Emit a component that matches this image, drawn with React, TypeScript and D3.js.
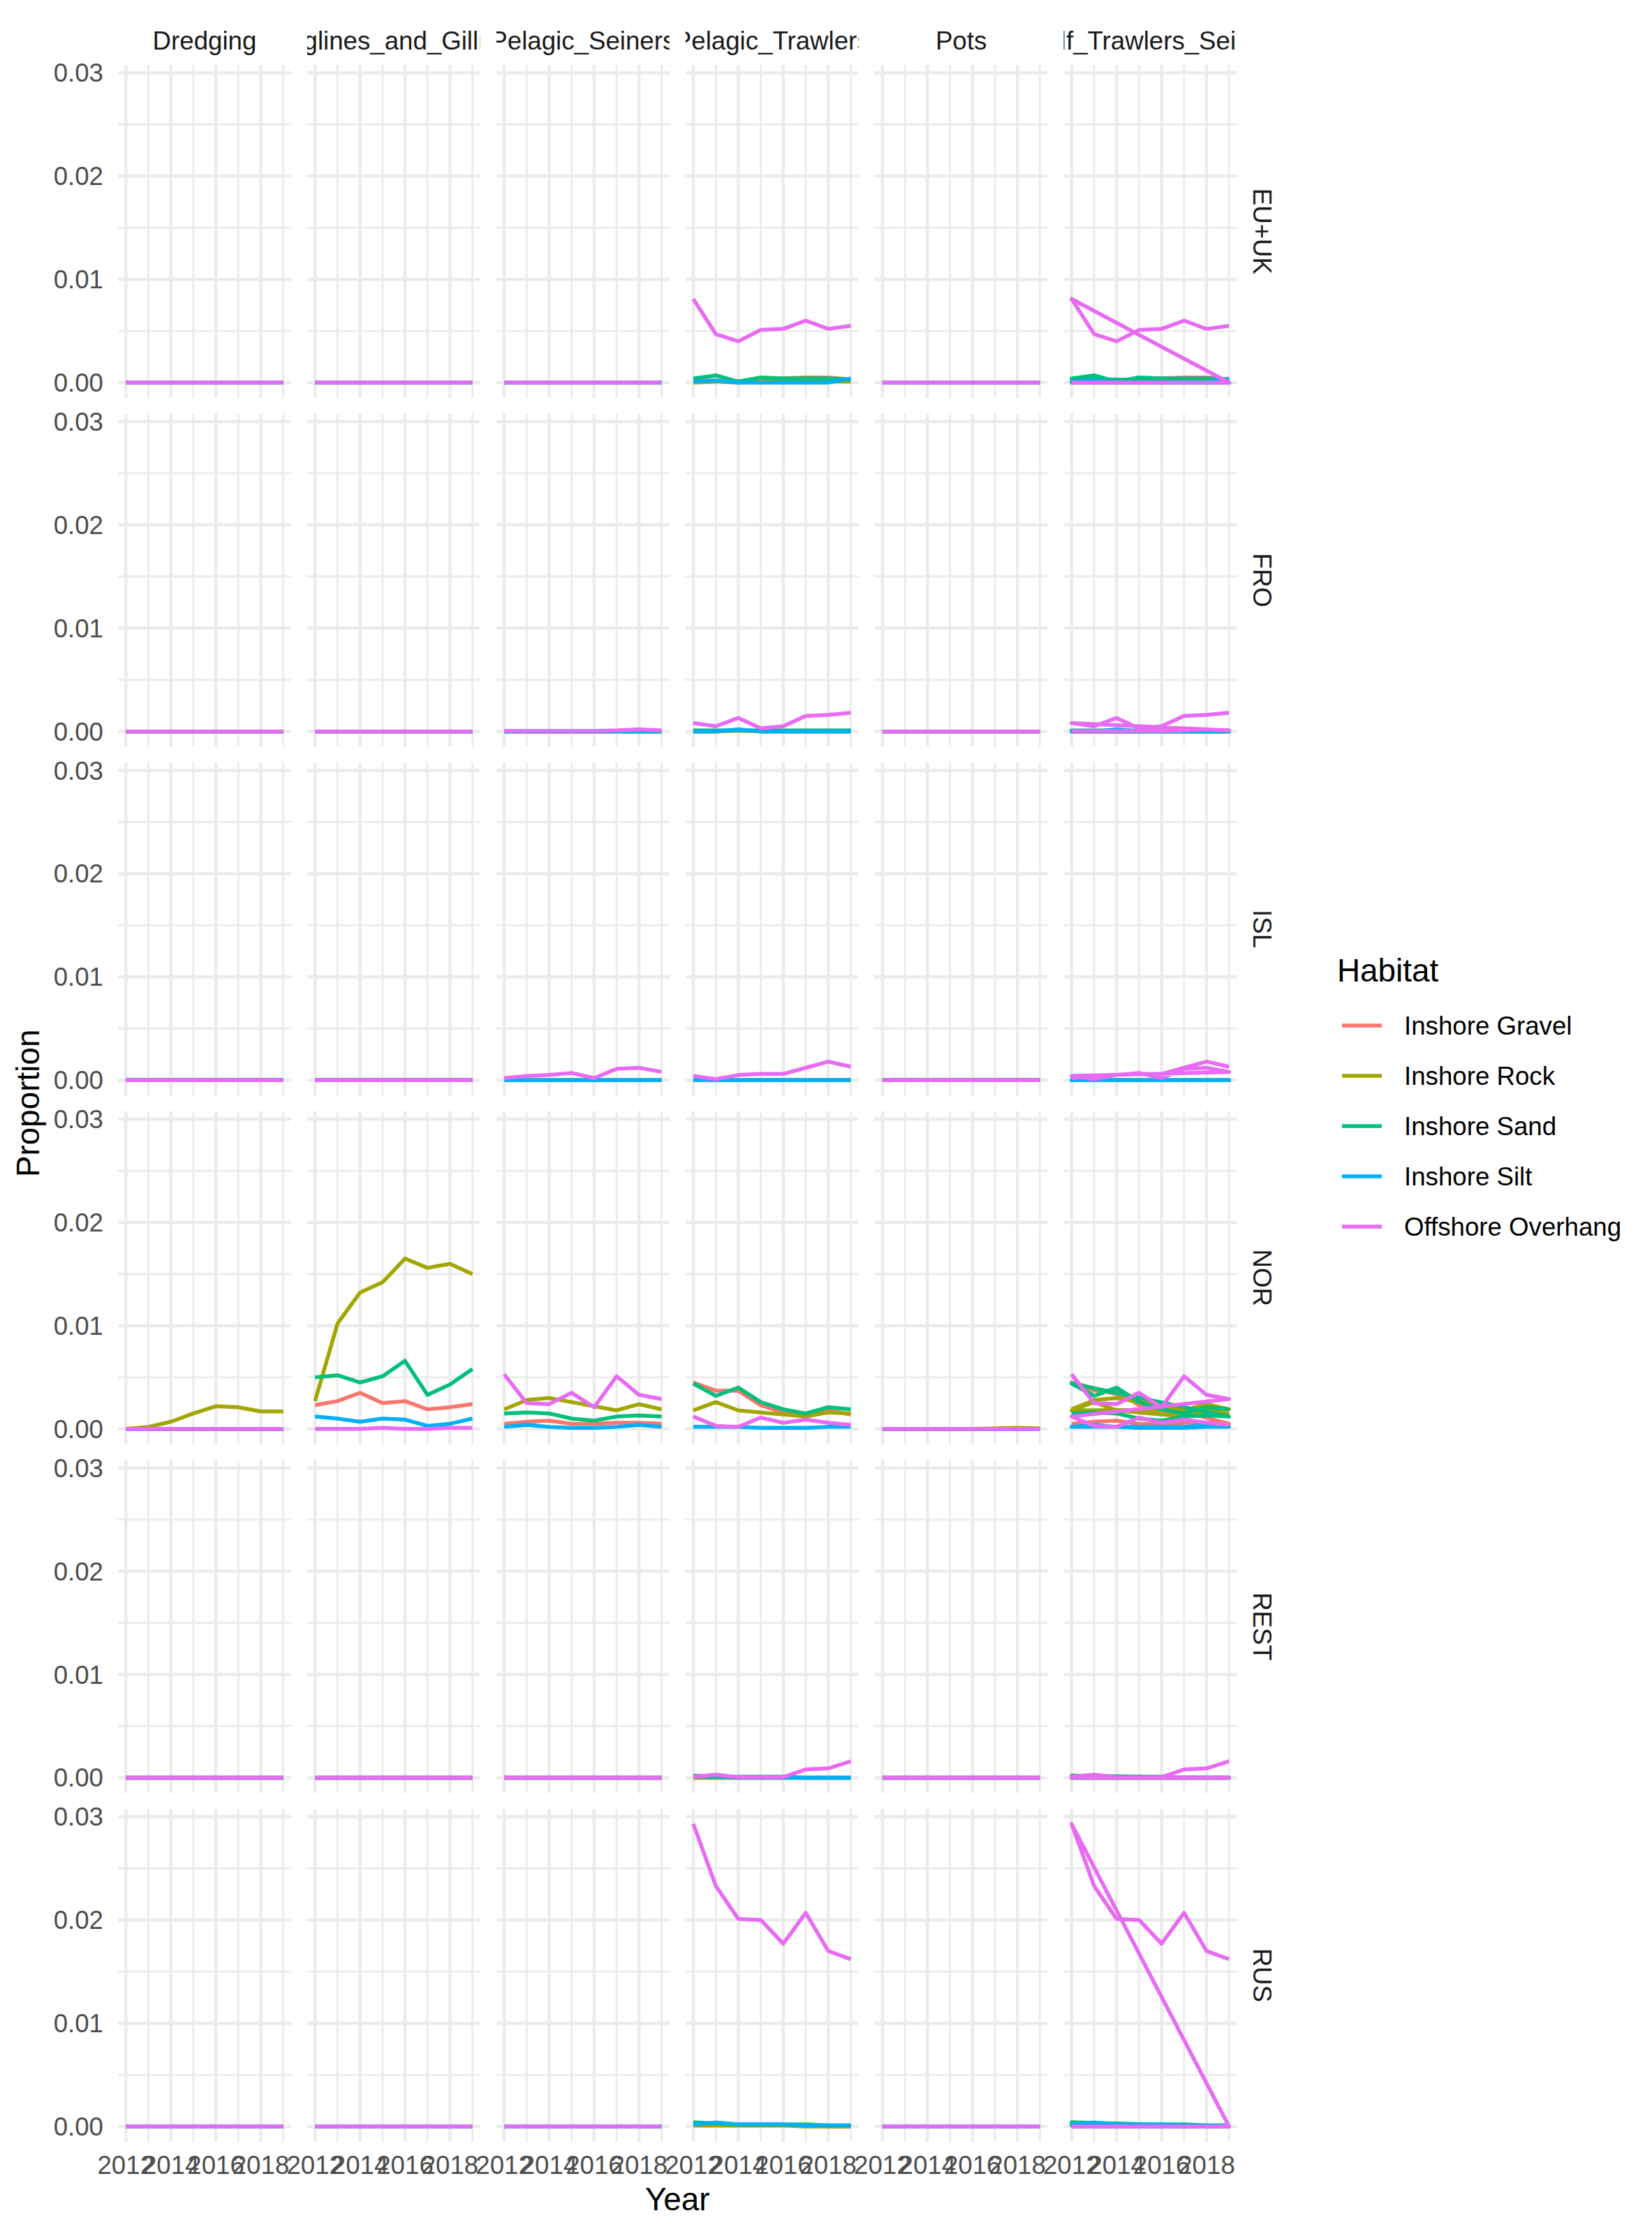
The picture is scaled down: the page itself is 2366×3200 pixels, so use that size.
import React from 'react';
import * as d3 from 'd3';

const years = [2012, 2013, 2014, 2015, 2016, 2017, 2018, 2019];
const gears = ["Dredging", "Longlines_and_Gillnets", "Pelagic_Seiners", "Pelagic_Trawlers", "Pots", "Shelf_Trawlers_Seiners"];
const regions = ["EU+UK", "FRO", "ISL", "NOR", "REST", "RUS"];
const habitats = ["Inshore Gravel", "Inshore Rock", "Inshore Sand", "Inshore Silt", "Offshore Overhang"];
const habitatColors = ["#F8766D", "#A3A500", "#00BF7D", "#00B0F6", "#E76BF3"];
const xTicks = [2012, 2014, 2016, 2018];
const xMinorTicks = [2013, 2015, 2017, 2019];
const yTicks = [0, 0.01, 0.02, 0.03];
const yMinorTicks = [0.005, 0.015, 0.025];

const Z = [0, 0, 0, 0, 0, 0, 0, 0];
const ZERO_PANEL = [Z, Z, Z, Z, Z];

// order of series in each panel: Gravel, Rock, Sand, Silt, Overhang
const EUUK_Trawlers = [
  [0.0002, 0.0002, 0.0001, 0.0003, 0.0004, 0.0005, 0.0005, 0.0003],
  [0, 0.0001, 0, 0.0001, 0.0001, 0.0001, 0.0001, 0.0001],
  [0.0004, 0.0007, 0.0001, 0.0005, 0.0004, 0.0004, 0.0004, 0.0003],
  [0.0001, 0.0002, 0, 0, 0, 0, 0, 0.0004],
  [0.0081, 0.0047, 0.0040, 0.0051, 0.0052, 0.0060, 0.0052, 0.0055],
];
const FRO_Seiners = [Z, Z, Z, Z,
  [0.00005, 0.00005, 0.00005, 0.00005, 0.00005, 0.0001, 0.0002, 0.0001],
];
const FRO_Trawlers = [
  [0, 0, 0.0001, 0, 0, 0, 0, 0],
  [0, 0, 0.0001, 0, 0, 0, 0, 0],
  [0.0001, 0.0001, 0.0001, 0.0001, 0.0001, 0.0001, 0.0001, 0.0001],
  [0, 0, 0.0002, 0, 0, 0, 0, 0],
  [0.0008, 0.0005, 0.0013, 0.0003, 0.0005, 0.0015, 0.0016, 0.0018],
];
const ISL_Seiners = [Z, Z, Z, Z,
  [0.0002, 0.0004, 0.0005, 0.0007, 0.0002, 0.0011, 0.0012, 0.0008],
];
const ISL_Trawlers = [Z, Z, Z, Z,
  [0.0004, 0.0001, 0.0005, 0.0006, 0.0006, 0.0012, 0.0018, 0.0013],
];
const NOR_Dredging = [Z,
  [0, 0.0002, 0.0007, 0.0015, 0.0022, 0.0021, 0.0017, 0.0017],
  Z, Z, Z,
];
const NOR_Longlines = [
  [0.0023, 0.0027, 0.0035, 0.0025, 0.0027, 0.0019, 0.0021, 0.0024],
  [0.0027, 0.0102, 0.0132, 0.0142, 0.0165, 0.0156, 0.0160, 0.0150],
  [0.0050, 0.0052, 0.0045, 0.0051, 0.0066, 0.0033, 0.0043, 0.0058],
  [0.0012, 0.0010, 0.0007, 0.0010, 0.0009, 0.0003, 0.0005, 0.0010],
  [0, 0, 0, 0.0001, 0, 0, 0.0001, 0.0001],
];
const NOR_Seiners = [
  [0.0005, 0.0007, 0.0008, 0.0005, 0.0005, 0.0006, 0.0006, 0.0005],
  [0.0019, 0.0028, 0.0030, 0.0026, 0.0022, 0.0018, 0.0024, 0.0019],
  [0.0015, 0.0016, 0.0015, 0.0010, 0.0008, 0.0012, 0.0013, 0.0012],
  [0.0002, 0.0004, 0.0002, 0.0001, 0.0001, 0.0002, 0.0004, 0.0002],
  [0.0053, 0.0025, 0.0024, 0.0035, 0.0021, 0.0051, 0.0033, 0.0029],
];
const NOR_Trawlers = [
  [0.0045, 0.0037, 0.0037, 0.0023, 0.0016, 0.0014, 0.0018, 0.0014],
  [0.0018, 0.0026, 0.0018, 0.0016, 0.0014, 0.0012, 0.0016, 0.0015],
  [0.0044, 0.0032, 0.0040, 0.0026, 0.0019, 0.0015, 0.0021, 0.0019],
  [0.0002, 0.0002, 0.0002, 0.0001, 0.0001, 0.0001, 0.0002, 0.0002],
  [0.0012, 0.0003, 0.0002, 0.0011, 0.0006, 0.0009, 0.0006, 0.0004],
];
const NOR_Pots = [Z,
  [0, 0, 0, 0, 0, 0.00005, 0.0001, 0.00005],
  Z, Z, Z,
];
const REST_Trawlers = [
  Z,
  Z,
  [0.0002, 0.0001, 0.0001, 0.0001, 0.0001, 0, 0, 0],
  [0.0001, 0.0001, 0, 0, 0, 0, 0, 0],
  [0.0001, 0.0003, 0.00005, 0.00005, 0.00005, 0.0008, 0.0009, 0.0016],
];
const RUS_Trawlers = [
  [0.0001, 0.0001, 0.0001, 0.0001, 0.0001, 0.0001, 0, 0],
  [0.0001, 0.0001, 0.0001, 0.0001, 0.0001, 0, 0, 0],
  [0.0004, 0.0003, 0.0002, 0.0002, 0.0002, 0.0002, 0.0001, 0.0001],
  [0.0002, 0.0004, 0.0002, 0.0002, 0.0002, 0.0001, 0.0001, 0.0001],
  [0.0293, 0.0233, 0.0201, 0.0200, 0.0177, 0.0207, 0.0170, 0.0162],
];

// per region: [Dredging, Longlines, Seiners, Trawlers, Pots]
const regionPanels: Record<string, number[][][]> = {
  "EU+UK": [ZERO_PANEL, ZERO_PANEL, ZERO_PANEL, EUUK_Trawlers, ZERO_PANEL],
  "FRO": [ZERO_PANEL, ZERO_PANEL, FRO_Seiners, FRO_Trawlers, ZERO_PANEL],
  "ISL": [ZERO_PANEL, ZERO_PANEL, ISL_Seiners, ISL_Trawlers, ZERO_PANEL],
  "NOR": [NOR_Dredging, NOR_Longlines, NOR_Seiners, NOR_Trawlers, NOR_Pots],
  "REST": [ZERO_PANEL, ZERO_PANEL, ZERO_PANEL, REST_Trawlers, ZERO_PANEL],
  "RUS": [ZERO_PANEL, ZERO_PANEL, ZERO_PANEL, RUS_Trawlers, ZERO_PANEL],
};

const W = 2366;
const H = 3200;
const FONT = "'Liberation Sans', Arial, Helvetica, sans-serif";
const FS = 36.67;
const FS_TITLE = 45.83;

const PANEL_LEFT = 169;
const PANEL_TOP = 93;
const PANEL_W = 248;
const PANEL_H = 476.7;
const GAP = 22.9;

function seriesPoints(region: string, gi: number, hi: number): [number, number][] {
  const p = regionPanels[region];
  const toPts = (vals: number[]) => years.map((y, i) => [y, vals[i]] as [number, number]);
  if (gi < 5) return toPts(p[gi][hi]);
  // Shelf_Trawlers_Seiners: seiners rows followed by trawlers rows, drawn as one path
  return [...toPts(p[2][hi]), ...toPts(p[3][hi])];
}

export default function App() {
  const allVals: number[] = [];
  regions.forEach(r => regionPanels[r].forEach(panel => panel.forEach(s => s.forEach(v => allVals.push(v)))));
  const yMax = d3.max(allVals) as number;
  const yMin = 0;
  const yPad = (yMax - yMin) * 0.05;
  const xPad = (2019 - 2012) * 0.05;

  const x = d3.scaleLinear().domain([2012 - xPad, 2019 + xPad]).range([0, PANEL_W]);
  const y = d3.scaleLinear().domain([yMin - yPad, yMax + yPad]).range([PANEL_H, 0]);
  const line = d3.line<[number, number]>().x(d => x(d[0])).y(d => y(d[1]));
  const fmt = d3.format(".2f");

  const colX = (c: number) => PANEL_LEFT + c * (PANEL_W + GAP);
  const rowY = (r: number) => PANEL_TOP + r * (PANEL_H + GAP);
  const totalRight = colX(5) + PANEL_W;
  const totalBottom = rowY(5) + PANEL_H;

  const legendX = 1915;
  const legendKeyY0 = 1469;
  const legendStep = 72;

  return (
    <svg width={W} height={H} style={{ position: 'absolute', left: 0, top: 0, background: '#fff' }}
      fontFamily={FONT}>
      <rect x={0} y={0} width={W} height={H} fill="#fff" />
      <defs>
        {gears.map((g, c) => (
          <clipPath id={`strip-clip-${c}`} key={g}>
            <rect x={colX(c)} y={0} width={PANEL_W} height={PANEL_TOP} />
          </clipPath>
        ))}
      </defs>

      {/* strips top */}
      {gears.map((g, c) => (
        <g key={g} clipPath={`url(#strip-clip-${c})`}>
          <text x={colX(c) + PANEL_W / 2} y={71} textAnchor="middle" fontSize={FS} fill="#1A1A1A">{g}</text>
        </g>
      ))}

      {/* strips right */}
      {regions.map((r, ri) => (
        <text key={r} transform={`translate(${totalRight + 23}, ${rowY(ri) + PANEL_H / 2}) rotate(90)`}
          textAnchor="middle" fontSize={FS} fill="#1A1A1A">{r}</text>
      ))}

      {regions.map((region, ri) => (
        <g key={region}>
          {gears.map((g, gi) => (
            <g key={g} transform={`translate(${colX(gi)}, ${rowY(ri)})`}>
              {yMinorTicks.map(t => (
                <line key={`ym${t}`} x1={0} x2={PANEL_W} y1={y(t)} y2={y(t)} stroke="#EBEBEB" strokeWidth={2.9} />
              ))}
              {xMinorTicks.map(t => (
                <line key={`xm${t}`} x1={x(t)} x2={x(t)} y1={0} y2={PANEL_H} stroke="#EBEBEB" strokeWidth={2.9} />
              ))}
              {yTicks.map(t => (
                <line key={`y${t}`} x1={0} x2={PANEL_W} y1={y(t)} y2={y(t)} stroke="#EBEBEB" strokeWidth={4.5} />
              ))}
              {xTicks.map(t => (
                <line key={`x${t}`} x1={x(t)} x2={x(t)} y1={0} y2={PANEL_H} stroke="#EBEBEB" strokeWidth={4.5} />
              ))}
              {habitats.map((h, hi) => (
                <path key={h} d={line(seriesPoints(region, gi, hi)) as string} fill="none"
                  stroke={habitatColors[hi]} strokeWidth={5.5} strokeLinejoin="round" strokeLinecap="butt" />
              ))}
            </g>
          ))}
          {/* y axis labels */}
          {yTicks.map(t => (
            <text key={t} x={PANEL_LEFT - 21} y={rowY(ri) + y(t) + 13} textAnchor="end" fontSize={FS} fill="#4D4D4D">{fmt(t)}</text>
          ))}
        </g>
      ))}

      {/* x axis labels */}
      {gears.map((g, gi) => (
        <g key={g}>
          {xTicks.map(t => (
            <text key={t} x={colX(gi) + x(t)} y={totalBottom + 46} textAnchor="middle" fontSize={FS} fill="#4D4D4D">{t}</text>
          ))}
        </g>
      ))}

      {/* axis titles */}
      <text x={(PANEL_LEFT + totalRight) / 2} y={3166} textAnchor="middle" fontSize={FS_TITLE} fill="#000">Year</text>
      <text transform={`translate(56, ${(PANEL_TOP + totalBottom) / 2}) rotate(-90)`} textAnchor="middle" fontSize={FS_TITLE} fill="#000">Proportion</text>

      {/* legend */}
      <text x={legendX} y={1406} fontSize={FS_TITLE} fill="#000">Habitat</text>
      {habitats.map((h, hi) => (
        <g key={h}>
          <line x1={legendX + 7} x2={legendX + 64} y1={legendKeyY0 + hi * legendStep} y2={legendKeyY0 + hi * legendStep}
            stroke={habitatColors[hi]} strokeWidth={5.5} />
          <text x={legendX + 96} y={legendKeyY0 + hi * legendStep + 13} fontSize={FS} fill="#000">{h}</text>
        </g>
      ))}
    </svg>
  );
}
